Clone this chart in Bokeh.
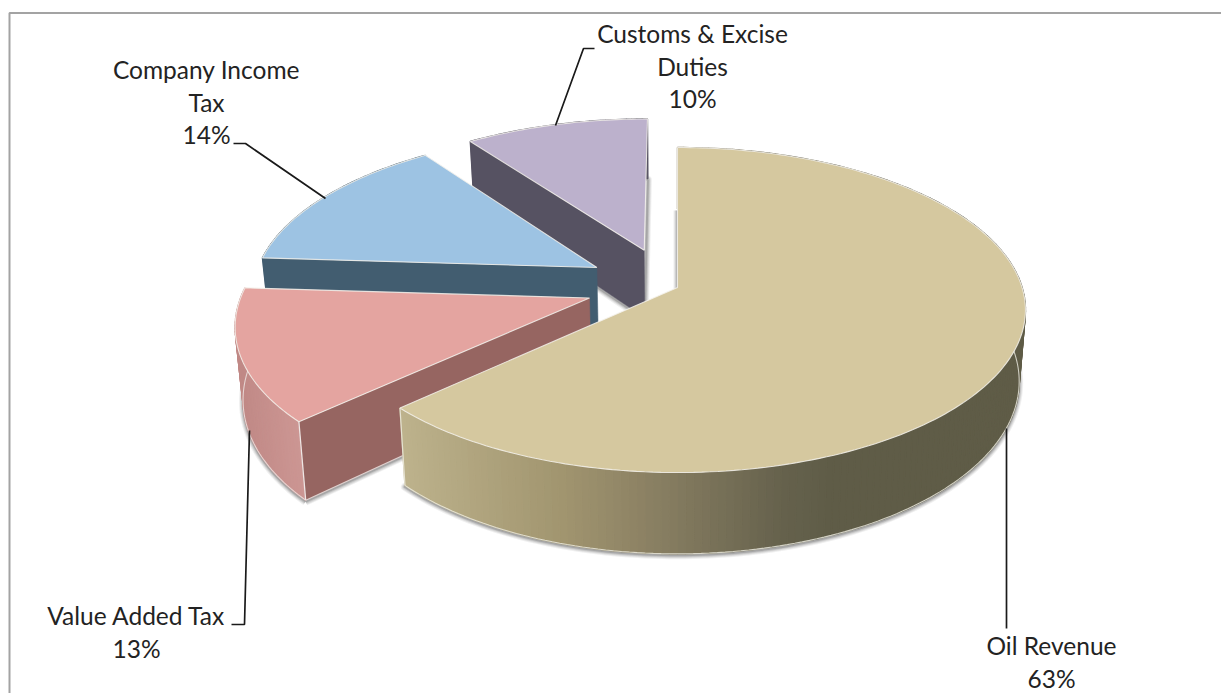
import numpy as np
from bokeh.core.properties import value
from bokeh.embed import file_html
from bokeh.models import Range1d
from bokeh.plotting import figure
from bokeh.resources import INLINE

# Revenue shares, in drawing order around the pie (clockwise from 12 o'clock)
categories = ["Oil Revenue", "Value Added Tax", "Company Income Tax", "Customs & Excise Duties"]
shares = [63, 13, 14, 10]
label_lines = [["Oil Revenue"], ["Value Added Tax"], ["Company Income", "Tax"], ["Customs & Excise", "Duties"]]

# Styling per slice
top_colors = ["#D5C89F", "#E4A4A0", "#9DC3E3", "#BCB1CC"]
cut_colors = ["#6B6750", "#966561", "#425D70", "#565262"]
wall_stops = [
    [(400, "#BDB28C"), (560, "#A1956F"), (650, "#8A8063"), (780, "#66624D"), (830, "#5F5C47"), (1030, "#5F5C47")],
    [(235, "#C08986"), (305, "#CE9895")],
    [(260, "#425D70"), (600, "#425D70")],
    [(460, "#565262"), (660, "#565262")],
]
explode = [0.0, 0.265, 0.265, 0.265]
nudge_x = [0, -1, -2, -6]
nudge_y = [0, -4, 0, 1.5]

# Camera used for the tilted disc
CX, CY = 677.0, 287.0
RX, RY = 344.6, 159.4
PERSP = 0.1385
THICK = 70.0
SHRINK = 0.982

# Layout of the label blocks: centre x, first line y, per slice
label_x = [1051, 136, 206, 692]
label_y = [645, 615, 69, 33]
LINE_H = 32.6
leader_xs = [[1006, 1006], [231, 244, 249], [233, 245, 325], [594, 583, 555]]
leader_ys = [[428, 628], [624, 624, 430], [143, 143, 198], [48, 48, 125]]


def hex_rgb(c):
    return np.array([int(c[i:i + 2], 16) for i in (1, 3, 5)], dtype=float)


def ramp(stops, x):
    xs = [s[0] for s in stops]
    rgb = np.array([hex_rgb(s[1]) for s in stops])
    vals = [np.interp(x, xs, rgb[:, i]) for i in range(3)]
    return "#%02x%02x%02x" % tuple(int(round(v)) for v in vals)


def project(u, v):
    w = 1 + PERSP * v
    return CX + RX * u / w, CY - RY * v / w


def drop(u, v):
    # same point on the underside of the slab
    x, y = project(u, v)
    return CX + (x - CX) * SHRINK, y + THICK / (1 + PERSP * v)


p = figure(width=1221, height=693, output_backend="svg", toolbar_location=None,
           x_range=Range1d(0, 1221), y_range=Range1d(693, 0), min_border=0,
           background_fill_color="white", border_fill_color="white", outline_line_color=None)
p.axis.visible = False
p.grid.visible = False

# Chart frame: only the top and left sides fall inside the page
p.line([9, 9, 1221], [693, 12.5, 12.5], line_color="#A3A3A3", line_width=2)

ends = np.cumsum(shares) / np.sum(shares) * 2 * np.pi
starts = np.concatenate([[0], ends[:-1]])

slices = []
for i in range(len(shares)):
    th = np.linspace(starts[i], ends[i], int(shares[i] * 3) + 6)
    mid = (starts[i] + ends[i]) / 2
    du, dv = explode[i] * np.sin(mid), explode[i] * np.cos(mid)
    slices.append(dict(u=np.sin(th) + du, v=np.cos(th) + dv, au=du, av=dv))

# Back-most slices first so that nearer ones cover them
for i in [3, 2, 1, 0]:
    s = slices[i]
    u, v, au, av = s["u"], s["v"], s["au"], s["av"]
    tx, ty = project(u, v)
    bx, by = drop(u, v)
    ax, ay = project(au, av)
    abx, aby = drop(au, av)
    tx, bx, ax, abx = tx + nudge_x[i], bx + nudge_x[i], ax + nudge_x[i], abx + nudge_x[i]
    ty, by, ay, aby = ty + nudge_y[i], by + nudge_y[i], ay + nudge_y[i], aby + nudge_y[i]

    # soft contact shadow around the underside
    ox = list(bx) + [abx, bx[0]]
    oy = list(by + 1.5) + [aby + 1.5, by[0] + 1.5]
    for lw, alpha in [(8, 0.07), (6, 0.10), (4, 0.14), (2, 0.2)]:
        p.line(ox, oy, line_color="#303030", line_width=lw, line_alpha=alpha, line_join="round")

    # outer rim, cut into narrow strips so it can carry a gradient
    qx, qy, qc = [], [], []
    for a in range(len(u) - 1):
        qx.append([tx[a], tx[a + 1], bx[a + 1], bx[a]])
        qy.append([ty[a], ty[a + 1], by[a + 1], by[a]])
        qc.append(ramp(wall_stops[i], (tx[a] + tx[a + 1]) / 2))
    p.patches(qx, qy, fill_color=qc, line_color=qc, line_width=1.4)

    # only the leading cut face turns towards the viewer
    if i > 0:
        p.patch([ax, tx[0], bx[0], abx], [ay, ty[0], by[0], aby], fill_color=cut_colors[i],
                line_color=cut_colors[i], line_width=0.5)

    # pale highlights on the lower and vertical edges of the two front slices
    if i == 0:
        p.line(bx, by, line_color="#EFEDE4", line_width=1.1, line_alpha=0.8)
        p.line([tx[-1], bx[-1]], [ty[-1], by[-1]], line_color="#EFEDE4", line_width=1.2, line_alpha=0.8)
    if i == 1:
        p.line(bx, by, line_color="#EFE6E4", line_width=1.1, line_alpha=0.8)
        p.line([tx[0], bx[0]], [ty[0], by[0]], line_color="#EFE6E4", line_width=1.3)
        p.line([bx[0], abx], [by[0], aby], line_color="#EFE6E4", line_width=1.1, line_alpha=0.8)

    # top face
    p.patch(list(tx) + [ax], list(ty) + [ay], fill_color=top_colors[i],
            line_color="#F4F2EC", line_width=1.1, line_alpha=0.85)

# Leader lines
p.multi_line(leader_xs, leader_ys, line_color="#1A1A1A", line_width=1.7)

# Data labels
font = value("Lato")
lx, ly, lt = [], [], []
for i, lines in enumerate(label_lines):
    rows = lines + [f"{shares[i]}%"]
    for r, row in enumerate(rows):
        lx.append(label_x[i])
        ly.append(label_y[i] + r * LINE_H)
        lt.append(row)
p.text(lx, ly, text=lt, text_font=font, text_font_size="24.5px", text_color="#232323",
       text_align="center", text_baseline="middle")

open("out.html", "w").write(file_html(p, INLINE))
